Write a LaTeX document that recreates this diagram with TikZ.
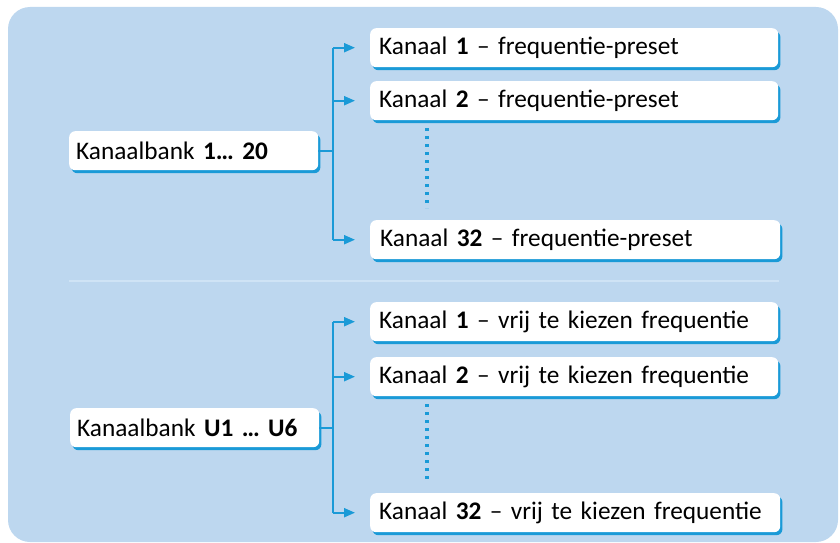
\documentclass[tikz,border=0pt]{standalone}
\usepackage{fontspec}
\setmainfont[WordSpace=0.8]{Carlito}
\usetikzlibrary{arrows.meta}
\definecolor{panel}{HTML}{BDD7EF}
\definecolor{sepc}{HTML}{CFE3F5}
\definecolor{lineblue}{HTML}{1A9AD7}
\begin{document}
\begin{tikzpicture}[x=1pt,y=-1pt,
  box/.style={anchor=north west, fill=white, rounded corners=6pt, inner xsep=9pt, inner ysep=0pt,
    font=\fontsize{25.3}{28}\selectfont, align=left,
    preaction={fill=lineblue, transform canvas={shift={(2.2pt,-3pt)}}}},
  chanbox/.style={box, minimum height=39pt, text width=390pt},
  bankbox/.style={box, minimum height=39pt, text width=235pt, inner xsep=7pt},
  conn/.style={draw=lineblue, line width=2pt},
  arr/.style={conn, -{Triangle[length=11pt,width=9pt]}, shorten >=15pt},
  dots/.style={draw=lineblue, line width=3.2pt, dash pattern=on 3pt off 5pt}]
\useasboundingbox (0,0) rectangle (840,543);
\fill[panel, rounded corners=22pt] (8,7) rectangle (838,542);
\draw[sepc, line width=2pt] (69,281) -- (779,281);

% top group
\node[chanbox] (b1) at (370,28) {Kanaal \textbf{1} -- frequentie-preset};
\node[chanbox] (b2) at (370,81) {Kanaal \textbf{2} -- frequentie-preset};
\node[chanbox, text width=392pt] (b3) at (370,220) {\hspace{1pt}Kanaal \textbf{32} -- frequentie-preset};
\node[bankbox] (k1) at (69,131) {Kanaalbank \textbf{1\ldots\ 20}};
\coordinate (s1) at (333,0);
\draw[conn] (s1 |- b1.west) -- (s1 |- b3.west);
\draw[conn] (k1.east) -- (k1.east -| s1);
\draw[arr] (s1 |- b1.west) -- (b1.west);
\draw[arr] (s1 |- b2.west) -- (b2.west);
\draw[arr] (s1 |- b3.west) -- (b3.west);
\coordinate (d1a) at (427,128);
\coordinate (d1b) at (427,208);
\draw[dots] (d1a) -- (d1b);

% bottom group
\node[chanbox] (c1) at (370,302) {Kanaal \textbf{1} -- vrij te kiezen frequentie};
\node[chanbox] (c2) at (370,357) {Kanaal \textbf{2} -- vrij te kiezen frequentie};
\node[chanbox, text width=392pt] (c3) at (370,493) {Kanaal \textbf{32} -- vrij te kiezen frequentie};
\node[bankbox] (k2) at (70,408) {Kanaalbank \textbf{U1 \ldots\ U6}};
\coordinate (s2) at (333,0);
\draw[conn] (s2 |- c1.west) -- (s2 |- c3.west);
\draw[conn] (k2.east) -- (k2.east -| s2);
\draw[arr] (s2 |- c1.west) -- (c1.west);
\draw[arr] (s2 |- c2.west) -- (c2.west);
\draw[arr] (s2 |- c3.west) -- (c3.west);
\coordinate (d2a) at (427,404);
\coordinate (d2b) at (427,482);
\draw[dots] (d2a) -- (d2b);
\end{tikzpicture}
\end{document}
